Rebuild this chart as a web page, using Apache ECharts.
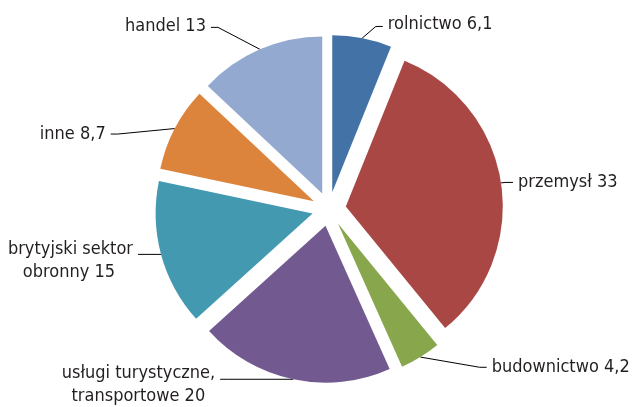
<!DOCTYPE html>
<html>
<head>
<meta charset="utf-8">
<script src="https://cdn.jsdelivr.net/npm/echarts@6/dist/echarts.min.js"></script>
<style>
html,body{margin:0;padding:0;background:#fff;}
#c{width:632px;height:407px;}
</style>
</head>
<body>
<div id="c"></div>
<script>
// Data
const categories = ['rolnictwo', 'przemysł', 'budownictwo', 'usługi turystyczne,\ntransportowe', 'brytyjski sektor\nobronny', 'inne', 'handel'];
const values = [6.1, 33, 4.2, 20, 15, 8.7, 13];
const colors = ['#4372a7', '#a94745', '#88a64c', '#725a90', '#4299b0', '#dc843c', '#93a9cf'];

// Style only: leader line lengths [radial, horizontal], label offsets, 2nd line padding
const leader = [[14, 18], [3, 9], [12, 60], [0, 73], [0, 23], [0, 64], [25, 39]];
const labelDy = [0, 0, 0, 6, 6, 5.5, 0];
const lineEndDy = [2, 0, 0, 0, 0, 5.5, 1];
const line2Pad = [0, 0, 0, 10, 18, 0, 0];
const hookLen = 7;

const fmt = v => String(v).replace('.', ',');

function labelText(p) {
  const parts = (p.name + ' ' + fmt(p.value)).split('\n');
  if (parts.length === 1) return '{a|' + parts[0] + '}';
  return '{a|' + parts[0] + '}\n{b' + p.dataIndex + '|' + parts[1] + '}';
}

const baseText = {
  color: '#231f20',
  fontFamily: '"DejaVu Sans Condensed", "DejaVu Sans", sans-serif',
  fontSize: 18,
  lineHeight: 23
};
const rich = {a: Object.assign({}, baseText)};
line2Pad.forEach((pad, i) => {
  rich['b' + i] = Object.assign({}, baseText, {padding: [0, pad, 0, 0]});
});

const chart = echarts.init(document.getElementById('c'), null, {renderer: 'canvas'});
chart.setOption({
  backgroundColor: '#ffffff',
  animation: false,
  series: [{
    type: 'pie',
    center: [329, 209],
    radius: [0, 157],
    startAngle: 90,
    clockwise: true,
    selectedMode: 'multiple',
    selectedOffset: 17,
    avoidLabelOverlap: false,
    emphasis: {disabled: true},
    select: {itemStyle: {borderWidth: 0}},
    itemStyle: {borderWidth: 0},
    label: Object.assign({
      show: true,
      position: 'outside',
      alignTo: 'none',
      distanceToLabelLine: 5,
      formatter: labelText,
      rich: rich
    }, baseText),
    labelLine: {
      show: true,
      minTurnAngle: 0,
      lineStyle: {color: '#000000', width: 1}
    },
    labelLayout: function (params) {
      const i = params.dataIndex;
      const pts = params.labelLinePoints;
      const out = {dy: labelDy[i]};
      if (pts && pts.length === 3) {
        const p0 = pts[0];
        const p2 = [pts[2][0], pts[2][1] + lineEndDy[i]];
        const dir = p2[0] < p0[0] ? 1 : -1;
        const p1 = [p2[0] + dir * Math.min(hookLen, Math.abs(p2[0] - p0[0])), p2[1]];
        out.labelLinePoints = [p0, p1, p2];
      }
      return out;
    },
    data: categories.map((c, i) => ({
      name: c,
      value: values[i],
      selected: true,
      itemStyle: {color: colors[i]},
      labelLine: {length: leader[i][0], length2: leader[i][1]}
    }))
  }]
});
</script>
</body>
</html>
